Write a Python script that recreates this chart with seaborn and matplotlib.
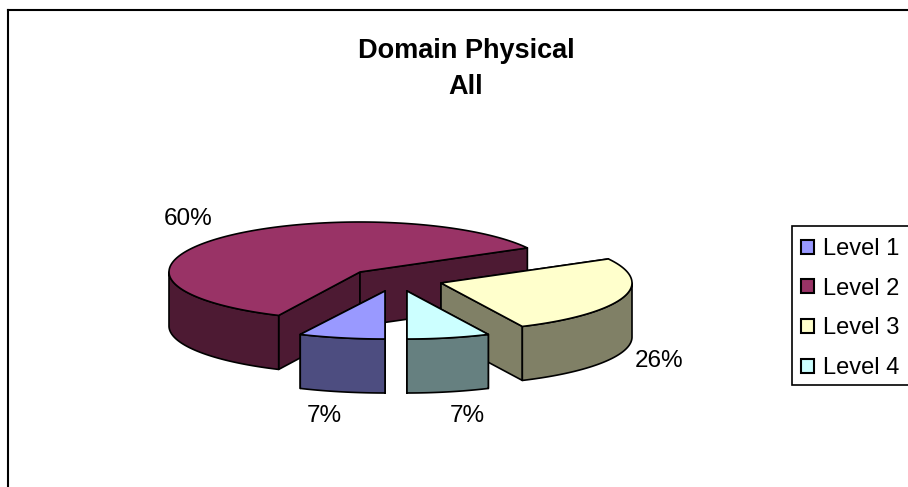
import numpy as np
import matplotlib
matplotlib.use("Agg")
import matplotlib.pyplot as plt
from matplotlib.patches import Patch, Rectangle
import seaborn as sns

levels = ["Level 1", "Level 2", "Level 3", "Level 4"]
shares = [7, 60, 26, 7]
top_colors = ["#9999FF", "#993366", "#FFFFCC", "#CCFFFF"]

sns.set_theme(style="white")
plt.rcParams["font.family"] = ["Liberation Sans", "DejaVu Sans"]

# fake 3d pie, excel style: flat ellipse + extruded sides
RY_BACK, RY_FRONT = 50, 48
FIRST_ANGLE = 180
centers = {"Level 1": (385, 291), "Level 2": (360, 272), "Level 3": (441, 283), "Level 4": (407, 291)}
radii = {"Level 1": 199, "Level 2": 191, "Level 3": 191, "Level 4": 191}
depths = {"Level 1": 54, "Level 2": 54, "Level 3": 54, "Level 4": 54}
label_pos = {"Level 1": (324, 416), "Level 2": (188, 219), "Level 3": (659, 361), "Level 4": (467, 416)}


def rim(name, deg):
    # angle runs clockwise from 12 o'clock
    center = centers[name]
    rad = np.radians(deg)
    ry = np.where(np.cos(rad) >= 0, RY_BACK, RY_FRONT)
    return center[0] + radii[name] * np.sin(rad), center[1] - ry * np.cos(rad)


def draw_slice(ax, name, start, end, color):
    center = centers[name]
    depth = depths[name]
    side = tuple(c * 0.5 for c in color)
    style = dict(edgecolor="black", linewidth=1.2, joinstyle="round")

    # radial cut faces
    for deg in (start, end):
        x, y = rim(name, deg)
        ax.fill([center[0], x, x, center[0]], [center[1], y, y + depth, center[1] + depth],
                facecolor=side, **style)

    # outer wall, only the part facing the viewer
    lo = max(start, 90)
    hi = min(end, 270)
    if lo < hi:
        x, y = rim(name, np.linspace(lo, hi, 80))
        ax.fill(np.r_[x, x[::-1]], np.r_[y, y[::-1] + depth], facecolor=side, **style)

    x, y = rim(name, np.linspace(start, end, 160))
    ax.fill(np.r_[center[0], x], np.r_[center[1], y], facecolor=color, **style)


fig = plt.figure(figsize=(9.08, 4.87), dpi=100)
ax = fig.add_axes([8 / 908, 0, 900 / 908, 477 / 487])
ax.set_xlim(8, 908)
ax.set_ylim(487, 10)
ax.set_xticks([])
ax.set_yticks([])
sns.despine(ax=ax, top=False, right=True, bottom=True)
for s in ["top", "left"]:
    ax.spines[s].set_color("black")
    ax.spines[s].set_linewidth(1.5)

colors = sns.color_palette(top_colors)
ends = FIRST_ANGLE + np.cumsum(shares) * 3.6
starts = ends - np.array(shares) * 3.6
# slices past 12 o'clock wrap back into 0-360
wrap = np.where(starts >= 360, 360, 0)
slices = dict(zip(levels, zip(starts - wrap, ends - wrap, colors)))

# back to front
for name in ["Level 2", "Level 3", "Level 4", "Level 1"]:
    s, e, c = slices[name]
    draw_slice(ax, name, s, e, c)

for name, share in zip(levels, shares):
    x, y = label_pos[name]
    ax.text(x, y, f"{share}%", ha="center", va="center", fontsize=17.5, color="black")

fig.text(466 / 908, 1 - 51 / 487, "Domain Physical", ha="center", va="center",
         fontsize=19.5, fontweight="bold", color="black")
fig.text(466 / 908, 1 - 87 / 487, "All", ha="center", va="center",
         fontsize=19.5, fontweight="bold", color="black")

# legend frame drawn apart so the rows can sit a bit lower in it
ax.add_patch(Rectangle((792, 226), 130, 159, facecolor="white", edgecolor="black", linewidth=1.2))
handles = [Patch(facecolor=c, edgecolor="black", linewidth=1.5) for c in colors]
ax.legend(handles, levels, loc="upper left", bbox_to_anchor=(792, 229),
          bbox_transform=ax.transData, borderaxespad=0, fontsize=17, labelcolor="black",
          frameon=False, handlelength=0.55, handleheight=0.55, handletextpad=0.4,
          labelspacing=0.75, borderpad=0.38)

fig.savefig("out.png", dpi=100)
